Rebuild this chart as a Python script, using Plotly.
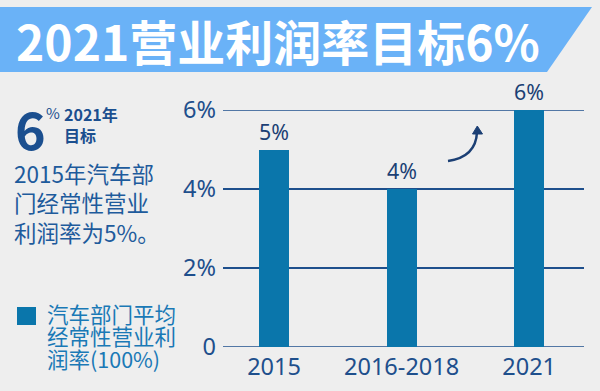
import plotly.graph_objects as go

# ---- data ----
categories = ["2015", "2016-2018", "2021"]
values = [5, 4, 6]
bar_labels = ["5%", "4%", "6%"]
y_tick_vals = [0, 2, 4, 6]
y_tick_text = ["0", "2%", "4%", "6%"]

title_text = "2021营业利润率目标6%"
side_lines = ["2015年汽车部", "门经常性营业", "利润率为5%。"]
legend_lines = ["汽车部门平均", "经常性营业利", "润率(100%)"]

# ---- layout geometry (pixels) ----
W_FIG, H_FIG = 600, 391
L, R, T, B = 223, 16, 110, 44
PW = W_FIG - L - R
PH = H_FIG - T - B


def px(x):
    return (x - L) / PW


def py(y):
    return (H_FIG - B - y) / PH


CJK = "Noto Sans CJK SC"
LAT = "Noto Sans, Noto Sans CJK SC"
BAR = "#0a76ab"
NAVY = "#1b3f74"
AXIS_BLUE = "#1e4f8c"
BODY_BLUE = "#1e5b9c"
LEG_BLUE = "#1a79b6"

fig = go.Figure(
    go.Bar(
        x=categories,
        y=values,
        text=bar_labels,
        textposition="outside",
        cliponaxis=False,
        marker=dict(color=BAR, line=dict(width=0)),
        width=0.235,
        textfont=dict(size=23, color=NAVY, family=LAT),
        showlegend=False,
    )
)

shapes = []
# title banner
shapes.append(dict(
    type="path", xref="paper", yref="paper",
    path=f"M {px(0)},{py(7)} L {px(592)},{py(7)} L {px(547)},{py(72)} L {px(0)},{py(72)} Z",
    fillcolor="#6ab2f7", line=dict(width=0), layer="below",
))
# horizontal grid lines at the axis ends (plotly drops these at the range edges)
for v in (min(y_tick_vals), max(y_tick_vals)):
    shapes.append(dict(
        type="line", xref="paper", yref="y", x0=0, x1=1, y0=v, y1=v,
        line=dict(color=AXIS_BLUE, width=1.6), layer="below",
    ))
# legend square
shapes.append(dict(
    type="rect", xref="paper", yref="paper",
    x0=px(17), x1=px(36), y0=py(307), y1=py(325),
    fillcolor=BAR, line=dict(width=0),
))
# curved arrow
shapes.append(dict(
    type="path", xref="paper", yref="paper",
    path=f"M {px(448)},{py(161)} Q {px(476)},{py(157)} {px(477)},{py(132)}",
    line=dict(color=NAVY, width=2.5),
))
shapes.append(dict(
    type="path", xref="paper", yref="paper",
    path=f"M {px(472.5)},{py(134)} L {px(477.3)},{py(126)} L {px(482.5)},{py(134)} Z",
    fillcolor=NAVY, line=dict(color=NAVY, width=1),
))

annotations = []


def txt(text, x, y, size, color, bold=False, family=CJK):
    annotations.append(dict(
        text=f"<b>{text}</b>" if bold else text,
        xref="paper", yref="paper", x=px(x), y=py(y),
        xanchor="left", yanchor="middle", showarrow=False, align="left",
        font=dict(size=size, color=color, family=family),
    ))


txt(title_text, 14, 40, 48, "white", bold=True)
txt("6", 13, 127, 52, "#1b4f8f", bold=True)
txt("%", 44, 113, 15, "#1b4f8f")
txt("2021年", 62, 114, 16, "#1b4f8f", bold=True)
txt("目标", 62, 135, 16, "#1b4f8f", bold=True)
txt("<br>".join(side_lines), 12, 202, 22.5, BODY_BLUE)
for i, line in enumerate(legend_lines):
    txt(line, 45, 313 + i * 22.5, 21.5, LEG_BLUE)

fig.update_layout(
    width=W_FIG, height=H_FIG,
    margin=dict(l=L, r=R, t=T, b=B, pad=0),
    paper_bgcolor="#eeeeee", plot_bgcolor="#eeeeee",
    shapes=shapes, annotations=annotations,
    bargap=0.0,
)
fig.update_xaxes(
    range=[-0.4, 2.43], showgrid=False, zeroline=False, showline=False,
    ticks="", tickfont=dict(size=23.5, color=AXIS_BLUE, family=LAT),
    ticklabelstandoff=3, automargin=False,
)
fig.update_yaxes(
    range=[0, 6], tickvals=y_tick_vals, ticktext=y_tick_text,
    showgrid=True, gridcolor=AXIS_BLUE, gridwidth=1.6,
    zeroline=False, showline=False, ticks="",
    tickfont=dict(size=23.5, color=AXIS_BLUE, family=LAT),
    ticklabelstandoff=6, automargin=False,
)

fig.write_html(
    "out.html",
    config={"displayModeBar": False},
    post_script="document.body.style.margin='0';document.body.style.overflow='hidden';",
)
